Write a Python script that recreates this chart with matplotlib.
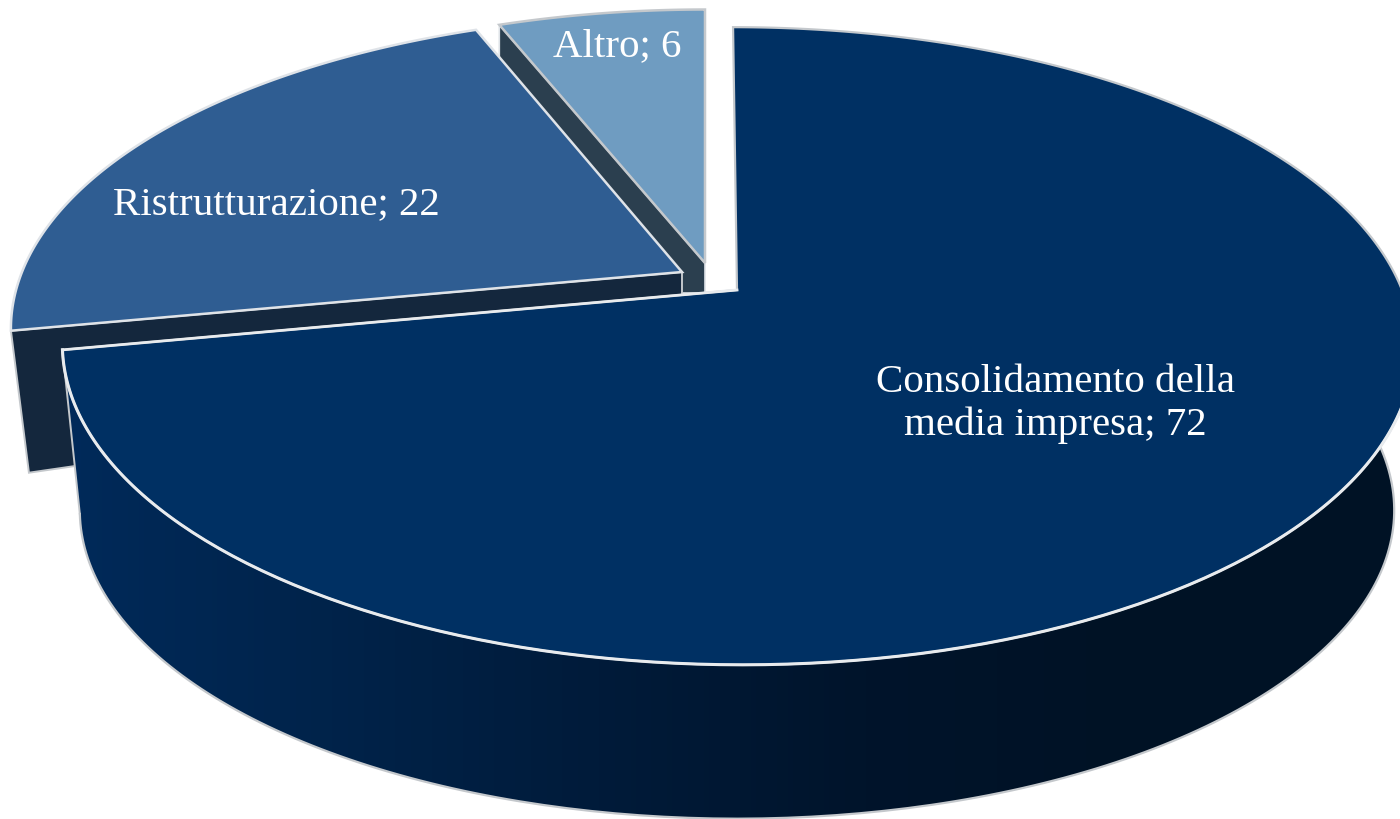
import numpy as np
import matplotlib
matplotlib.use("Agg")
import matplotlib.pyplot as plt
from matplotlib.colors import LinearSegmentedColormap
from matplotlib.patches import Polygon

# data
categories = ["Consolidamento della\nmedia impresa", "Ristrutturazione", "Altro"]
values = [72, 22, 6]
top_colors = ["#003063", "#2f5d92", "#6f9cc1"]
wall_colors = ["#002a5a", "#14273d", "#2b3f4f"]

# the look of the pie on the page (pixels)
K = 0.1756        # perspective
RX = 665
RY = 309
LINE = "#dfe3e8"
GREY = "#c4c8cc"

plt.rcParams["font.family"] = ["Liberation Serif", "DejaVu Serif"]

fig = plt.figure(figsize=(14, 8.19), dpi=100)
ax = fig.add_axes([0, 0, 1, 1])
ax.set_xlim(0, 1400)
ax.set_ylim(819, 0)
ax.axis("off")


def rim(ax0, ay0, t0, t1, rx=RX, ry=RY, skew=0.0, n=200):
    # t in degrees, clockwise from 12 o'clock
    t = np.radians(np.linspace(t0, t1, n))
    d = 1 + K * np.cos(t)
    up = ry * np.cos(t) / d
    return np.column_stack([ax0 + rx * np.sin(t) / d + skew * up, ay0 - up])


edges = 360 * np.cumsum([0] + values) / sum(values)

# Altro: cut face, then top
alt_rim = rim(705, 263, edges[2], edges[3], ry=298, rx=650)
ax.add_patch(Polygon([alt_rim[0], (705, 263), (705, 293), (670, 293), alt_rim[0] + (0, 100)],
                     fc=wall_colors[2], ec=LINE, lw=1.2, zorder=1))
ax.add_patch(Polygon(np.vstack([[(705, 263)], alt_rim]), fc=top_colors[2], ec=GREY, lw=1.8, zorder=2))

# Ristrutturazione: cut face, then top
ris_rim = rim(682, 272, edges[1], edges[2], rx=660, ry=303, skew=0.012)
corner = ris_rim[0]
ax.add_patch(Polygon([corner, (682, 272), (682, 378), corner + (18, 142)],
                     fc=wall_colors[1], ec=GREY, lw=1.4, zorder=3))
ax.add_patch(Polygon(np.vstack([[(682, 272)], ris_rim]), fc=top_colors[1], ec=LINE, lw=1.8, zorder=4))

# main slice, outer wall with the gradient
low = rim(737, 456, 80, edges[1], rx=647, ry=299)
up = rim(737, 290, 80, edges[1], skew=-0.015)
wall = Polygon(np.vstack([up, low[::-1]]), closed=True, fc="none", ec="none", zorder=5)
ax.add_patch(wall)
cmap = LinearSegmentedColormap.from_list(
    "wall", [wall_colors[0], "#00234a", "#001b3a", "#00142b", "#001225", "#001225"])
img = ax.imshow(np.linspace(0, 1, 256)[None, :], cmap=cmap, aspect="auto",
                extent=[60, 1400, 819, 0], zorder=5)
img.set_clip_path(wall)
ax.plot(low[:, 0], low[:, 1], color=GREY, lw=1.6, zorder=6)
ax.plot([up[-1, 0], low[-1, 0]], [up[-1, 1], low[-1, 1]], color=GREY, lw=1.4, zorder=6)

# main slice top
main_rim = rim(737, 290, edges[0], edges[1], skew=-0.015, n=400)
ax.add_patch(Polygon(np.vstack([[(737, 290)], main_rim]), fc=top_colors[0], ec=GREY, lw=1.6, zorder=7))
front = rim(737, 290, 100, edges[1], skew=-0.015)
ax.plot(front[:, 0], front[:, 1], color="#e8ebee", lw=2.2, zorder=7)
ax.plot([737, main_rim[-1, 0]], [290, main_rim[-1, 1]], color="#e8ebee", lw=2.0, zorder=7)

# labels
label_pos = [(1055, 404), (276, 205), (617, 47)]
for cat, v, (x, y) in zip(categories, values, label_pos):
    ax.text(x, y, f"{cat}; {v}", color="white", fontsize=29.5, ha="center", va="center",
            linespacing=1.2, zorder=8)

fig.savefig("out.png", dpi=100, facecolor="white")
